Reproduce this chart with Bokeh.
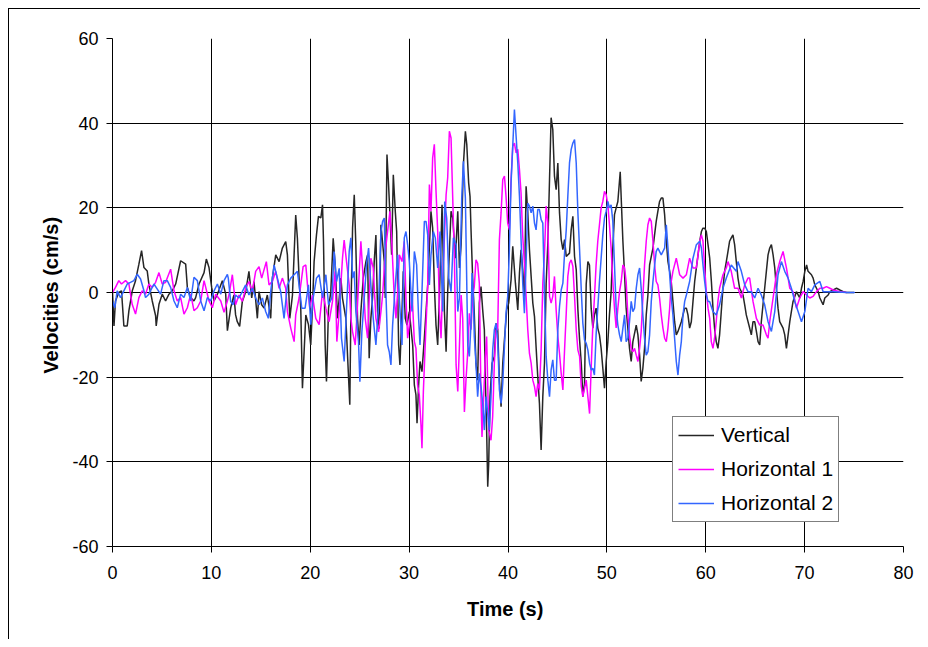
from bokeh.plotting import figure
from bokeh.models import Range1d, FixedTicker, Legend, LegendItem
from bokeh.embed import file_html
from bokeh.resources import INLINE

# ---------------- data (time s, velocity cm/s) ----------------
x_ticks = [0, 10, 20, 30, 40, 50, 60, 70, 80]
y_ticks = [-60, -40, -20, 0, 20, 40, 60]
series_names = ["Vertical", "Horizontal 1", "Horizontal 2"]

vertical = [
    (0.0, 0), (0.15, -7.9), (0.3, -2.0), (0.64, 0), (0.91, 0.4), (1.15, -7.9), (1.49, -7.9), (1.66, -4.3),
    (2.0, 0.4), (2.33, 2.8), (2.67, 6.7), (2.94, 9.9), (3.18, 5.9), (3.51, 5.1), (3.68, 2.0), (4.02, -2.0),
    (4.36, -5.5), (4.42, -7.9), (4.7, -2.8), (5.03, -0.4), (5.37, -2.0), (5.71, -0.4), (6.05, 0.4), (6.39, 2.0),
    (6.89, 7.5), (7.4, 6.7), (7.57, 1.2), (7.9, -1.2), (8.24, -2.0), (8.41, -1.2), (8.75, 2.0), (9.26, 4.7),
    (9.49, 7.9), (9.76, 5.9), (10.03, 1.2), (10.27, -2.0), (10.61, -0.4), (11.11, 2.8), (11.45, -0.4), (11.62, -9.0),
    (11.95, -3.7), (12.28, -0.6), (12.45, -5.3), (12.62, -6.9), (12.86, -8.0), (13.13, -2.1), (13.47, 0.2), (13.8, 5.0),
    (14.08, -1.3), (14.31, 2.6), (14.65, -6.1), (14.82, 0.2), (15.09, -2.9), (15.33, -3.7), (15.66, -0.6), (16.0, -6.1),
    (16.17, 3.4), (16.51, 8.9), (16.85, 7.3), (17.18, 10.5), (17.52, 12.0), (17.69, 8.9), (17.93, -6.1), (18.2, -0.6),
    (18.53, 18.3), (18.7, 12.8), (18.87, 3.4), (19.04, -3.7), (19.21, -22.6), (19.55, -5.3), (19.82, -7.6), (20.05, -12.4),
    (20.22, -3.7), (20.39, 7.3), (20.63, 13.6), (20.83, 18.0), (21.07, 17.6), (21.24, 20.7), (21.34, 12.0), (21.51, -12.4),
    (21.64, -21.0), (21.85, -3.7), (22.08, 0.2), (22.32, 12.8), (22.52, 6.5), (22.76, -6.1), (23.1, 3.4), (23.26, -1.3),
    (23.6, -6.1), (24.0, -26.5), (24.11, -4.5), (24.28, 15.2), (24.45, 23.1), (24.61, 11.3), (24.78, -6.1), (24.95, -12.4),
    (25.12, -4.5), (25.36, 3.4), (25.63, 7.3), (25.8, 8.9), (25.96, -15.5), (26.13, -6.1), (26.3, -1.3), (26.47, 7.3),
    (26.64, 13.6), (26.81, -4.5), (26.98, -8.5), (27.15, 16.0), (27.49, 7.3), (27.59, -1.3), (27.76, 32.6), (27.92, 25.5),
    (28.09, 16.8), (28.23, 8.9), (28.4, 27.8), (28.6, 19.2), (28.74, 14.4), (28.94, -12.4), (29.07, -17.1), (29.28, -4.5),
    (29.41, 5.0), (29.61, -6.1), (29.78, -7.7), (30.02, -4.5), (30.36, -12.4), (30.53, -21.9), (30.69, -24.2), (30.8, -30.9),
    (30.96, -21.9), (31.1, -16.3), (31.3, -18.7), (31.54, -10.8), (31.88, 1.8), (32.21, 19.2), (32.38, 15.2), (32.55, 1.8),
    (32.72, -7.7), (32.89, -12.4), (33.06, -1.3), (33.33, 20.7), (33.57, -4.5), (33.74, -14.0), (33.9, 0.2), (34.24, 19.2),
    (34.41, 17.6), (34.68, 8.1), (34.92, 19.2), (35.09, 5.8), (35.26, 11.3), (35.49, 30.2), (35.69, 38.1), (35.83, 35.0),
    (36.02, 25.9), (36.16, 22.7), (36.26, 14.8), (36.43, 3.0), (36.59, -4.9), (36.76, -16.7), (36.93, -20.7), (37.1, -2.5),
    (37.27, 1.4), (37.44, -4.1), (37.61, -8.8), (37.71, -20.7), (37.84, -32.5), (37.95, -45.9), (38.05, -40.4), (38.18, -24.6),
    (38.39, -16.7), (38.62, -15.1), (38.79, -7.3), (38.96, -8.8), (39.13, -20.7), (39.3, -27.0), (39.47, -16.7), (39.64, -11.2),
    (39.87, -4.1), (40.07, -2.5), (40.31, 3.0), (40.48, 10.9), (40.75, 2.2), (40.99, -4.1), (41.16, 4.6), (41.32, 10.1),
    (41.49, 5.4), (41.66, -0.9), (41.83, 25.1), (42.0, 18.8), (42.17, 10.1), (42.34, 3.8), (42.51, -2.5), (42.68, -5.7),
    (42.84, -12.8), (43.01, -19.9), (43.18, -26.2), (43.35, -37.2), (43.52, -24.6), (43.69, -16.7), (43.86, 2.2), (44.03, 11.7),
    (44.2, 26.7), (44.36, 41.3), (44.53, 38.5), (44.7, 27.5), (44.87, 24.3), (45.04, 30.6), (45.21, 18.8), (45.38, 12.5),
    (45.55, 10.1), (45.72, 12.5), (45.89, 8.5), (46.22, 9.3), (46.39, 14.8), (46.56, 18.0), (46.73, 8.5), (46.9, 5.4),
    (47.07, -4.1), (47.24, -11.2), (47.41, -16.7), (47.57, -24.6), (47.74, -21.5), (47.91, 2.0), (48.08, 7.3), (48.24, 6.5),
    (48.41, -3.7), (48.58, -8.4), (48.74, -5.3), (48.91, -3.7), (49.08, -8.4), (49.25, -10.0), (49.42, -13.2), (49.59, -17.9),
    (49.76, -22.6), (49.93, -16.3), (50.1, -11.6), (50.26, -5.3), (50.43, 0.2), (50.6, 10.5), (50.77, 18.4), (50.94, 20.0),
    (51.11, 21.5), (51.35, 28.5), (51.45, 22.3), (51.62, 12.1), (51.79, 4.2), (51.95, -3.7), (52.12, -8.4), (52.29, -13.2),
    (52.46, -16.3), (52.63, -11.6), (52.97, -7.7), (53.14, -10.0), (53.31, -14.8), (53.47, -21.0), (53.64, -17.9), (53.81, -13.2),
    (53.98, -5.3), (54.15, -0.6), (54.32, 6.5), (54.66, 10.5), (54.99, 16.8), (55.16, 19.2), (55.33, 21.5), (55.5, 22.3),
    (55.67, 22.3), (55.84, 18.4), (56.01, 12.1), (56.18, 7.3), (56.35, 5.0), (56.51, 2.6), (56.68, -2.1), (56.85, -6.9),
    (57.02, -10.0), (57.19, -9.2), (57.53, -6.9), (57.87, -3.7), (58.04, -3.7), (58.2, -5.3), (58.37, -8.4), (58.54, -6.9),
    (58.71, -2.1), (58.88, 2.6), (59.05, 5.8), (59.22, 8.9), (59.39, 12.1), (59.56, 14.4), (59.72, 15.2), (59.89, 15.2),
    (60.06, 14.4), (60.23, 11.3), (60.4, 8.1), (60.57, 2.6), (60.73, -3.7), (60.89, -8.4), (61.06, -11.6), (61.23, -13.2),
    (61.4, -10.0), (61.57, -4.5), (61.74, 1.0), (61.91, 5.0), (62.08, 7.3), (62.25, 9.7), (62.41, 12.1), (62.58, 12.9),
    (62.75, 13.6), (62.92, 11.3), (63.09, 7.3), (63.26, 3.4), (63.43, 1.0), (63.77, -0.6), (63.94, -2.9), (64.1, -5.3),
    (64.44, -8.4), (64.61, -10.0), (64.78, -6.9), (64.95, -6.9), (65.12, -9.2), (65.29, -11.6), (65.46, -12.4), (65.62, -6.9),
    (65.79, -2.9), (65.96, 1.0), (66.13, 5.0), (66.3, 8.9), (66.47, 10.5), (66.64, 11.3), (66.81, 8.9), (66.98, 5.8),
    (67.14, 1.0), (67.31, -3.7), (67.48, -6.9), (67.82, -8.4), (67.99, -10.0), (68.16, -13.2), (68.33, -10.0), (68.5, -6.9),
    (68.66, -4.5), (68.83, -2.1), (69.17, 0.2), (69.51, -1.3), (69.68, 1.0), (69.85, 2.6), (70.02, 5.0), (70.2, 6.5),
    (70.35, 5.0), (70.69, 4.2), (70.86, 3.4), (71.03, 1.8), (71.2, 1.0), (71.37, 0.2), (71.54, -1.3), (71.87, -2.9),
    (72.04, -1.3), (72.38, -0.6), (72.55, 0.2), (72.89, 0.6), (73.23, 1.0), (73.56, 0.6), (73.9, 0.2), (74.24, 0), (75.0, 0),
]

horizontal_1 = [
    (0, 0), (0.3, 1.2), (0.64, 2.8), (0.91, 2.0), (1.32, 2.8), (1.66, 2.0), (1.99, -2.8), (2.33, -5.1),
    (2.67, -1.2), (3.0, 0.4), (3.34, -0.4), (3.68, 2.0), (4.02, 1.2), (4.36, 2.4), (4.7, 4.7), (5.03, 2.0),
    (5.37, 2.4), (5.88, 5.5), (6.22, 0.4), (6.55, -2.0), (6.89, -1.2), (7.23, -5.1), (7.57, -3.6), (7.91, -0.4),
    (8.24, -4.3), (8.58, -3.6), (8.92, -2.0), (9.26, 2.8), (9.43, 1.2), (9.76, -2.0), (10.1, -3.6), (10.44, -0.4),
    (10.95, -2.0), (11.28, -4.7), (11.62, -2.0), (11.78, -0.6), (12.12, 4.2), (12.45, -2.9), (12.79, -0.6), (13.13, -2.1),
    (13.47, 1.0), (13.8, 2.6), (14.14, 0.2), (14.48, 5.0), (14.82, 6.1), (15.09, 3.4), (15.33, 5.4), (15.56, 7.3),
    (15.83, 1.8), (16.17, 2.6), (16.51, 5.0), (16.85, 1.0), (17.18, 3.4), (17.52, 1.0), (17.69, -4.5), (18.03, -8.4),
    (18.2, -10.0), (18.37, -11.6), (18.53, -5.3), (18.87, -1.3), (19.28, 6.1), (19.55, 6.5), (19.72, 1.8), (19.95, -3.7),
    (20.22, -0.6), (20.56, -6.1), (20.9, -7.6), (21.24, 0.2), (21.58, -3.7), (21.91, -6.9), (22.25, -2.1), (22.52, 5.0),
    (22.69, -11.6), (22.93, -4.5), (23.26, 8.1), (23.43, 12.4), (23.67, 7.3), (23.94, 1.8), (24.11, -6.1), (24.28, -9.3),
    (24.55, -12.4), (24.78, -2.9), (25.12, 12.1), (25.29, 5.8), (25.56, -6.1), (25.8, -10.8), (26.13, 8.1), (26.37, 5.8),
    (26.64, -6.1), (26.91, -9.3), (27.15, -4.5), (27.32, -0.6), (27.59, 9.7), (27.82, 14.4), (28.06, 19.2), (28.26, 11.3),
    (28.5, -1.3), (28.67, -6.1), (28.84, 0.2), (29.01, 8.9), (29.28, 7.3), (29.51, 12.1), (29.68, -1.3), (29.85, -10.8),
    (30.02, -7.7), (30.29, 0.2), (30.53, -11.6), (30.69, -13.2), (30.86, -21.9), (31.03, -24.2), (31.2, -31.3), (31.3, -36.8),
    (31.44, -23.4), (31.64, -11.6), (31.88, 1.8), (32.05, 25.5), (32.21, 19.2), (32.38, 31.8), (32.55, 35.0), (32.72, 23.9),
    (32.89, 14.4), (33.06, -4.5), (33.23, -10.8), (33.46, 6.5), (33.74, 23.1), (33.9, 27.1), (34.07, 38.1), (34.24, 36.5),
    (34.41, 22.3), (34.58, 8.1), (34.75, -17.1), (34.92, -23.4), (35.09, -12.4), (35.26, -0.6), (35.42, -6.1), (35.59, -28.2),
    (35.76, -20.3), (35.93, -14.0), (36.09, -4.9), (36.26, -8.8), (36.43, -0.9), (36.59, 1.4), (36.76, 7.7), (36.93, 6.9),
    (37.1, 2.2), (37.27, -24.6), (37.37, -34.1), (37.51, -26.2), (37.71, -15.1), (37.84, -10.4), (38.05, -32.5), (38.28, -34.9),
    (38.45, -29.3), (38.62, -16.7), (38.79, -8.8), (38.96, -8.8), (39.13, 12.5), (39.3, 18.8), (39.47, 26.7), (39.64, 27.5),
    (39.8, 22.7), (39.97, 16.4), (40.14, 14.8), (40.31, 26.7), (40.48, 34.6), (40.65, 35.3), (40.82, 33.0), (40.99, 33.8),
    (41.16, 29.0), (41.32, 23.5), (41.49, 13.3), (41.66, 6.9), (41.83, -0.9), (42.0, -8.8), (42.17, -14.4), (42.34, -16.7),
    (42.51, -20.7), (42.68, -22.2), (42.84, -24.6), (43.01, -21.5), (43.18, -23.0), (43.35, -13.6), (43.52, 2.2), (43.69, 9.3),
    (43.86, 20.4), (44.03, 16.4), (44.2, -0.9), (44.36, -2.5), (44.53, -0.9), (44.7, 3.8), (44.87, -4.1), (45.04, -10.4),
    (45.21, -14.4), (45.38, -19.1), (45.55, -23.0), (45.72, -13.6), (45.89, -4.9), (46.05, 3.8), (46.22, 6.9), (46.39, 7.7),
    (46.56, 6.2), (46.73, -0.9), (46.9, -8.8), (47.07, -13.6), (47.24, -15.1), (47.41, -22.2), (47.57, -24.6), (47.91, -20.7),
    (48.25, -28.6), (48.41, -17.9), (48.58, -7.7), (48.74, -1.3), (48.91, 6.5), (49.08, 12.1), (49.25, 16.0), (49.42, 20.0),
    (49.59, 21.5), (49.76, 23.9), (49.93, 23.1), (50.1, 20.7), (50.26, 16.0), (50.43, 10.5), (50.6, 2.6), (50.77, -3.7),
    (50.94, -8.4), (51.11, -3.7), (51.28, 0.2), (51.45, 2.6), (51.62, 6.5), (51.79, 5.8), (51.95, 2.6), (52.12, -5.3),
    (52.29, -10.0), (52.46, -13.2), (52.63, -14.0), (52.8, -13.2), (52.97, -14.8), (53.14, -16.3), (53.31, -13.2), (53.47, -9.2),
    (53.64, -1.3), (53.81, 6.5), (53.98, 12.1), (54.15, 16.0), (54.32, 17.6), (54.49, 16.8), (54.66, 12.1), (54.83, 6.5),
    (54.99, 2.6), (55.16, 1.8), (55.33, -1.3), (55.5, -5.3), (55.67, -8.4), (55.84, -10.8), (56.01, -11.6), (56.18, -8.4),
    (56.35, -3.7), (56.51, 2.6), (56.68, 5.0), (57.02, 8.1), (57.36, 4.2), (57.7, 3.4), (58.04, 4.2), (58.37, 8.1),
    (58.71, 5.8), (59.05, 5.8), (59.22, 8.9), (59.39, 12.1), (59.56, 13.6), (59.72, 12.1), (59.89, 5.8), (60.06, 0.2),
    (60.23, -3.7), (60.4, -6.1), (60.56, -11.6), (60.73, -13.2), (60.89, -10.8), (61.06, -6.9), (61.23, -2.1), (61.4, 1.0),
    (61.74, 4.2), (62.08, 5.8), (62.25, 7.3), (62.58, 5.0), (62.92, 1.0), (63.26, 1.0), (63.6, -1.3), (63.94, 1.8),
    (64.27, 3.4), (64.44, 3.4), (64.78, -2.1), (65.12, -6.1), (65.46, -7.7), (65.79, -7.7), (66.13, -10.0), (66.3, -10.8),
    (66.47, -6.9), (66.81, -1.3), (67.14, 4.2), (67.48, 7.3), (67.82, 9.7), (68.16, 5.8), (68.5, 1.0), (68.83, 0.2),
    (69.17, -3.7), (69.51, -1.3), (69.85, 0.2), (70.2, -0.6), (70.52, -1.3), (70.86, -0.9), (71.2, 0.2), (71.54, 1.0),
    (71.87, 1.0), (72.21, 1.4), (72.55, 1.0), (72.89, 0.6), (73.56, 0.2), (74.24, 0),
]

horizontal_2 = [
    (0, -2.0), (0.24, -3.6), (0.47, 0.4), (0.81, -1.2), (1.15, 0.4), (1.49, 2.0), (1.82, 2.4), (2.16, 2.8),
    (2.5, 4.3), (2.84, 3.2), (3.18, 0.4), (3.34, -1.2), (3.68, -0.4), (4.19, 2.0), (4.53, 0.8), (4.86, -0.4),
    (5.2, 2.8), (5.54, 2.8), (5.88, 1.2), (6.22, -2.0), (6.55, -3.6), (6.89, -0.4), (7.23, -1.2), (7.57, 1.2),
    (7.91, -2.0), (8.24, 3.6), (8.58, 2.8), (8.92, -2.0), (9.26, -4.3), (9.59, -1.2), (9.93, -2.0), (10.27, 0.4),
    (10.61, 2.0), (10.95, -0.4), (11.28, 2.8), (11.62, 4.3), (11.71, 3.4), (11.95, -2.1), (12.18, -2.9), (12.45, -0.6),
    (12.79, -1.3), (13.13, 0.2), (13.47, 1.8), (13.8, -0.6), (14.14, 1.0), (14.48, -1.3), (14.82, -2.9), (15.16, -1.3),
    (15.49, -4.5), (15.76, -6.1), (16.0, 0.2), (16.34, 6.5), (16.68, 3.4), (17.01, 0.2), (17.35, -6.1), (17.69, 1.8),
    (18.03, 3.4), (18.37, 4.2), (18.7, 5.0), (18.87, 1.8), (19.14, -3.7), (19.48, -3.7), (19.82, 1.8), (20.05, -7.6),
    (20.29, -1.3), (20.63, 3.4), (20.9, 4.2), (21.24, -1.3), (21.58, 4.2), (21.85, -2.9), (22.18, -1.3), (22.42, 9.7),
    (22.66, 2.6), (22.93, 5.7), (23.16, -10.8), (23.43, -16.3), (23.67, -3.7), (23.94, 9.7), (24.11, 12.9), (24.28, 3.4),
    (24.45, 5.0), (24.61, -4.5), (24.88, -11.6), (25.02, -21.1), (25.22, -9.3), (25.46, -1.3), (25.69, 6.5), (25.9, 10.5),
    (26.13, 1.8), (26.37, -6.1), (26.64, -12.4), (26.91, -2.9), (27.15, 14.4), (27.32, 16.8), (27.49, 17.6), (27.65, 0.2),
    (27.82, -12.4), (27.99, -14.0), (28.16, -17.1), (28.33, -7.7), (28.6, 1.8), (28.84, 8.9), (29.01, -1.3), (29.28, -12.4),
    (29.51, 12.9), (29.68, 14.4), (29.85, 11.3), (30.02, 7.3), (30.29, -4.5), (30.53, 9.7), (30.76, 6.5), (30.96, -6.1),
    (31.1, -12.4), (31.3, 0.2), (31.54, 16.8), (31.71, 16.8), (31.88, 13.6), (32.05, 1.8), (32.21, 8.9), (32.45, 14.4),
    (32.65, 12.9), (32.89, 5.8), (33.13, 14.4), (33.4, -4.5), (33.6, 21.5), (33.8, 17.6), (34.01, 3.4), (34.24, 0.2),
    (34.48, 12.9), (34.75, 11.3), (34.92, -4.5), (35.09, -1.3), (35.32, 22.3), (35.49, 31.0), (35.69, 22.3), (35.93, -12.4),
    (36.09, -15.1), (36.26, -7.3), (36.36, 4.6), (36.49, -0.9), (36.59, -10.4), (36.76, -16.7), (36.93, -24.6), (37.1, -19.1),
    (37.27, -22.2), (37.44, -26.2), (37.61, -32.5), (37.78, -24.6), (37.95, -28.6), (38.11, -32.5), (38.28, -24.6), (38.45, -13.6),
    (38.62, -8.8), (38.79, -7.3), (38.96, -11.2), (39.13, -23.0), (39.3, -26.2), (39.47, -21.5), (39.64, -12.8), (39.8, -4.9),
    (39.97, -0.9), (40.14, 10.1), (40.31, 25.9), (40.48, 34.6), (40.65, 43.2), (40.82, 36.9), (40.99, 30.6), (41.16, 22.7),
    (41.32, 12.5), (41.49, 2.2), (41.66, -4.9), (41.83, 6.9), (42.0, 21.1), (42.17, 20.4), (42.34, 18.8), (42.51, 20.4),
    (42.68, 16.4), (42.84, 14.8), (43.01, 19.6), (43.18, 19.6), (43.35, 17.2), (43.52, 16.4), (43.69, -0.9), (43.86, -15.1),
    (44.03, -20.7), (44.2, -24.6), (44.36, -18.3), (44.53, -15.9), (44.7, -20.7), (44.87, -20.7), (45.04, -8.8), (45.21, -3.3),
    (45.38, 0.6), (45.55, 2.2), (45.72, 9.3), (45.89, 14.8), (46.05, 22.7), (46.22, 30.6), (46.39, 33.8), (46.56, 35.3),
    (46.73, 36.1), (46.9, 30.6), (47.07, 18.8), (47.24, 10.1), (47.41, 0.6), (47.57, -7.3), (47.74, -11.2), (47.91, -12.0),
    (48.08, -13.6), (48.25, -16.7), (48.42, -18.3), (48.58, -17.9), (48.74, -19.5), (48.91, -10.0), (49.08, -3.7), (49.25, 2.6),
    (49.42, 8.1), (49.59, 13.6), (49.76, 17.6), (49.93, 19.2), (50.1, 21.5), (50.26, 20.0), (50.43, 20.7), (50.6, 16.8),
    (50.77, 6.5), (50.94, -3.7), (51.11, -7.7), (51.28, -10.0), (51.45, -11.6), (51.62, -8.4), (51.79, -5.3), (51.95, -11.6),
    (52.12, -10.8), (52.29, -6.9), (52.46, -2.1), (52.63, -4.5), (52.8, -3.7), (52.97, 1.0), (53.14, 4.2), (53.31, 5.8),
    (53.47, 1.0), (53.64, -5.3), (53.81, -10.8), (53.98, -14.8), (54.15, -14.0), (54.32, -10.0), (54.49, -2.1), (54.66, 2.6),
    (54.83, 6.5), (54.99, 9.7), (55.16, 10.5), (55.5, 8.9), (55.84, 10.5), (56.01, 16.0), (56.18, 10.5), (56.35, 4.2),
    (56.51, -1.3), (56.68, -5.3), (56.85, -10.8), (57.02, -16.3), (57.19, -19.5), (57.36, -14.8), (57.53, -11.6), (57.7, -5.3),
    (57.87, -2.1), (58.04, -0.6), (58.37, 2.6), (58.71, 8.1), (59.05, 11.3), (59.39, 12.1), (59.56, 10.5), (59.72, 6.5),
    (59.89, 2.6), (60.06, -0.6), (60.23, -2.1), (60.39, -2.1), (60.73, -4.5), (61.06, -5.3), (61.4, -2.9), (61.74, 1.0),
    (62.08, 3.4), (62.58, 6.5), (63.09, 5.0), (63.26, 7.3), (63.6, 5.0), (63.94, 1.8), (64.27, 0.2), (64.61, 0.2),
    (64.95, -1.3), (65.29, 1.0), (65.62, -0.6), (65.96, -2.9), (66.3, -6.9), (66.64, -9.2), (66.98, -4.5), (67.31, 4.2),
    (67.65, 7.3), (67.99, 5.0), (68.33, 3.4), (68.66, 1.0), (69.0, -2.1), (69.34, -4.5), (69.68, -6.9), (70.02, -4.5),
    (70.35, 1.0), (70.69, 0.2), (71.03, 1.8), (71.54, 2.6), (71.87, 0.2), (72.21, 0.2), (72.89, 0.2), (74.24, 0), (75.08, 0),
]

series_colors = ["#262626", "#FF00FF", "#3366FF"]

# ---------------- figure ----------------
FONT = "Liberation Sans"

p = figure(
    width=912, height=631,
    x_range=Range1d(0, 80), y_range=Range1d(-60, 60),
    output_backend="svg", toolbar_location=None,
    min_border_left=103, min_border_right=18, min_border_top=29, min_border_bottom=94,
    background_fill_color="white", border_fill_color="white",
)
p.styles = {"border-top": "1px solid black", "border-left": "1px solid black",
            "margin-left": "8px", "margin-top": "8px"}
p.outline_line_color = None

renderers = []
for data, color in zip([vertical, horizontal_1, horizontal_2], series_colors):
    ts = [d[0] for d in data]
    vs = [d[1] for d in data]
    r = p.line(ts, vs, line_color=color, line_width=1.5)
    renderers.append(r)

p.xaxis.ticker = FixedTicker(ticks=x_ticks)
p.yaxis.ticker = FixedTicker(ticks=y_ticks)
p.xgrid.ticker = FixedTicker(ticks=x_ticks)
p.ygrid.ticker = FixedTicker(ticks=y_ticks)
p.yaxis.major_label_overrides = {t: str(t) for t in y_ticks}
p.xaxis.major_label_overrides = {t: str(t) for t in x_ticks}
p.grid.grid_line_color = "black"
p.grid.grid_line_alpha = 1.0
p.grid.grid_line_width = 1

for ax in (p.xaxis, p.yaxis):
    ax.axis_line_color = "black"
    ax.axis_line_width = 1
    ax.major_tick_line_color = "black"
    ax.major_tick_out = 6
    ax.major_tick_in = 0
    ax.minor_tick_line_color = None
    ax.major_label_text_font = FONT
    ax.major_label_text_font_size = "18px"
    ax.major_label_text_color = "black"
    ax.axis_label_text_font = FONT
    ax.axis_label_text_font_size = "20px"
    ax.axis_label_text_font_style = "bold"
    ax.axis_label_text_color = "black"

p.xaxis.axis_label = "Time  (s)"
p.yaxis.axis_label = "Velocities  (cm/s)"
p.xaxis.major_label_standoff = 13
p.yaxis.major_label_standoff = 8
p.xaxis.axis_label_standoff = 16
p.yaxis.axis_label_standoff = 7

legend = Legend(
    items=[LegendItem(label=n, renderers=[r]) for n, r in zip(series_names, renderers)],
    location=(560, 24),
    border_line_color="black", border_line_width=1,
    background_fill_color="white", background_fill_alpha=1.0,
    padding=5, spacing=8, margin=0,
    glyph_width=36, glyph_height=26, label_height=26, label_standoff=7,
    label_text_font=FONT, label_text_font_size="21px", label_text_color="black",
)
p.add_layout(legend)

open("out.html", "w").write(file_html(p, INLINE))
